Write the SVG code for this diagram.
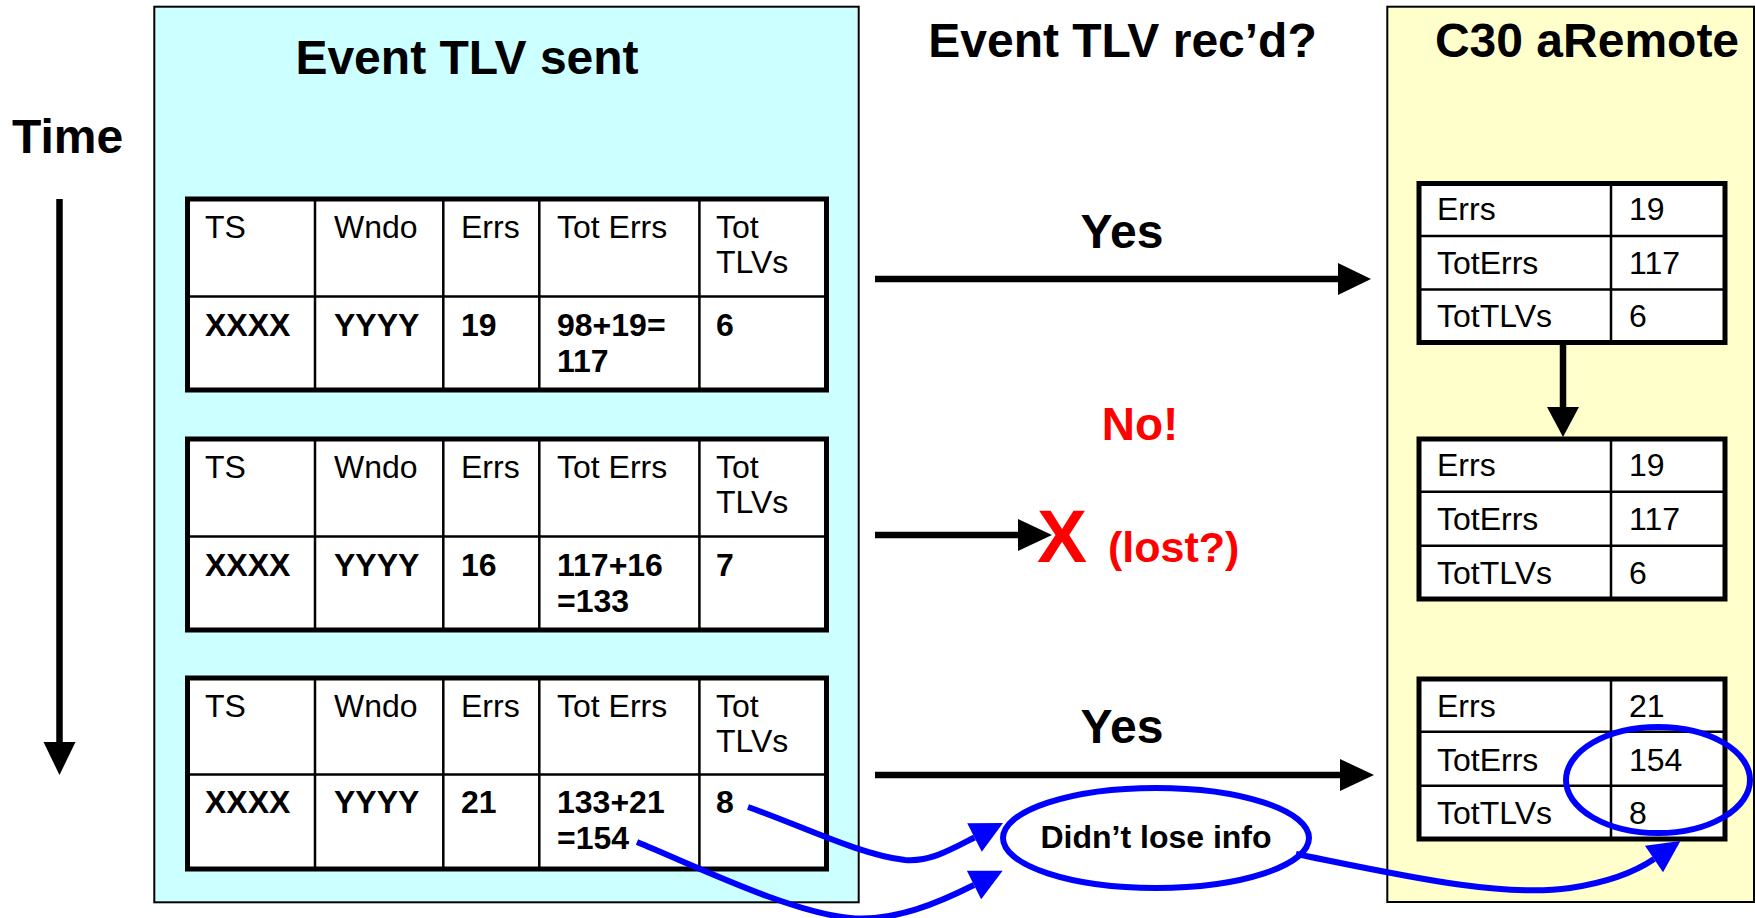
<svg xmlns="http://www.w3.org/2000/svg" width="1755" height="918" viewBox="0 0 1755 918">
<defs>
<style>
.title{font-family:"Liberation Sans",Arial,sans-serif;font-weight:bold;font-size:48px;fill:#000}
.cell{font-family:"Liberation Sans",Arial,sans-serif;font-size:32px;fill:#000}
.cellb{font-family:"Liberation Sans",Arial,sans-serif;font-size:32px;font-weight:bold;fill:#000}
.red{font-family:"Liberation Sans",Arial,sans-serif;font-weight:bold;fill:#FF0000}
.tbl{fill:#fff;stroke:none}
.outer{fill:none;stroke:#000;stroke-width:5}
.inner{stroke:#000;stroke-width:2.5;fill:none}
.blk{stroke:#000;stroke-width:6.5;fill:none}
.blue{stroke:#0000FF;stroke-width:6;fill:none}
</style>
<marker id="bh" markerUnits="userSpaceOnUse" markerWidth="34" markerHeight="34" refX="0" refY="16" orient="auto" overflow="visible">
<path d="M0,0 L32,16 L0,32 z" fill="#0000FF"/>
</marker>
</defs>
<rect width="1755" height="918" fill="#fff"/>

<g id="sent-panel">
<rect x="154.3" y="6.7" width="704.4" height="895.6" fill="#CCFFFF" stroke="#000" stroke-width="2"/>
<text class="title" x="467" y="74" text-anchor="middle">Event TLV sent</text>
</g>

<g id="remote-panel">
<rect x="1387.3" y="6.7" width="366.7" height="895.3" fill="#FFFFCC" stroke="#000" stroke-width="2"/>
<text class="title" x="1587" y="57" text-anchor="middle">C30 aRemote</text>
</g>

<g id="time-label">
<text class="title" x="12" y="153">Time</text>
</g>
<g id="recd-label">
<text class="title" x="1122.5" y="57" text-anchor="middle">Event TLV rec’d?</text>
</g>

<g id="sent-table-1" transform="translate(0,199)">
<rect class="tbl" x="187.5" y="0" width="639" height="191"/>
<path class="inner" d="M187.5,97.5H826.5M315,0V191M443.3,0V191M539.3,0V191M699.4,0V191"/>
<rect class="outer" x="187.5" y="0" width="639" height="191"/>
<text class="cell" x="205" y="38.5">TS</text>
<text class="cell" x="334" y="38.5">Wndo</text>
<text class="cell" x="461" y="38.5">Errs</text>
<text class="cell" x="557" y="38.5">Tot Errs</text>
<text class="cell" x="716" y="38.5">Tot</text>
<text class="cell" x="716" y="73.5">TLVs</text>
<text class="cellb" x="205" y="136.5">XXXX</text>
<text class="cellb" x="334" y="136.5">YYYY</text>
<text class="cellb" x="461" y="136.5">19</text>
<text class="cellb" x="557" y="136.5">98+19=</text>
<text class="cellb" x="557" y="172.5">117</text>
<text class="cellb" x="716" y="136.5">6</text>
</g>

<g id="sent-table-2" transform="translate(0,439)">
<rect class="tbl" x="187.5" y="0" width="639" height="191"/>
<path class="inner" d="M187.5,97.5H826.5M315,0V191M443.3,0V191M539.3,0V191M699.4,0V191"/>
<rect class="outer" x="187.5" y="0" width="639" height="191"/>
<text class="cell" x="205" y="38.5">TS</text>
<text class="cell" x="334" y="38.5">Wndo</text>
<text class="cell" x="461" y="38.5">Errs</text>
<text class="cell" x="557" y="38.5">Tot Errs</text>
<text class="cell" x="716" y="38.5">Tot</text>
<text class="cell" x="716" y="73.5">TLVs</text>
<text class="cellb" x="205" y="136.5">XXXX</text>
<text class="cellb" x="334" y="136.5">YYYY</text>
<text class="cellb" x="461" y="136.5">16</text>
<text class="cellb" x="557" y="136.5">117+16</text>
<text class="cellb" x="557" y="172.5">=133</text>
<text class="cellb" x="716" y="136.5">7</text>
</g>

<g id="sent-table-3" transform="translate(0,678)">
<rect class="tbl" x="187.5" y="0" width="639" height="191"/>
<path class="inner" d="M187.5,96.5H826.5M315,0V191M443.3,0V191M539.3,0V191M699.4,0V191"/>
<rect class="outer" x="187.5" y="0" width="639" height="191"/>
<text class="cell" x="205" y="38.5">TS</text>
<text class="cell" x="334" y="38.5">Wndo</text>
<text class="cell" x="461" y="38.5">Errs</text>
<text class="cell" x="557" y="38.5">Tot Errs</text>
<text class="cell" x="716" y="38.5">Tot</text>
<text class="cell" x="716" y="73.5">TLVs</text>
<text class="cellb" x="205" y="135">XXXX</text>
<text class="cellb" x="334" y="135">YYYY</text>
<text class="cellb" x="461" y="135">21</text>
<text class="cellb" x="557" y="135">133+21</text>
<text class="cellb" x="557" y="171">=154</text>
<text class="cellb" x="716" y="135">8</text>
</g>

<g id="remote-table-1" transform="translate(0,183.5)">
<rect class="tbl" x="1419" y="0" width="306" height="159"/>
<path class="inner" d="M1419,52.5H1725M1419,106H1725M1611,0V159"/>
<rect class="outer" x="1419" y="0" width="306" height="159"/>
<text class="cell" x="1437" y="36.5">Errs</text>
<text class="cell" x="1629" y="36.5">19</text>
<text class="cell" x="1437" y="90.5">TotErrs</text>
<text class="cell" x="1629" y="90.5">117</text>
<text class="cell" x="1437" y="143.5">TotTLVs</text>
<text class="cell" x="1629" y="143.5">6</text>
</g>

<g id="remote-table-2" transform="translate(0,439)">
<rect class="tbl" x="1419" y="0" width="306" height="160"/>
<path class="inner" d="M1419,52.7H1725M1419,106.7H1725M1611,0V160"/>
<rect class="outer" x="1419" y="0" width="306" height="160"/>
<text class="cell" x="1437" y="37">Errs</text>
<text class="cell" x="1629" y="37">19</text>
<text class="cell" x="1437" y="91">TotErrs</text>
<text class="cell" x="1629" y="91">117</text>
<text class="cell" x="1437" y="144.5">TotTLVs</text>
<text class="cell" x="1629" y="144.5">6</text>
</g>

<g id="remote-table-3" transform="translate(0,679)">
<rect class="tbl" x="1419" y="0" width="306" height="160"/>
<path class="inner" d="M1419,52.7H1725M1419,106.7H1725M1611,0V160"/>
<rect class="outer" x="1419" y="0" width="306" height="160"/>
<text class="cell" x="1437" y="37.5">Errs</text>
<text class="cell" x="1629" y="37.5">21</text>
<text class="cell" x="1437" y="91.5">TotErrs</text>
<text class="cell" x="1629" y="91.5">154</text>
<text class="cell" x="1437" y="144.5">TotTLVs</text>
<text class="cell" x="1629" y="144.5">8</text>
</g>

<g id="lost-label">
<text class="red" x="1140" y="440" font-size="46" text-anchor="middle">No!</text>
<text class="red" x="1037" y="562" font-size="75">X</text>
<text class="red" x="1108" y="561.5" font-size="43">(lost?)</text>
</g>

<g id="didnt-lose-info">
<ellipse cx="1156" cy="838" rx="153" ry="50" class="blue"/>
<text class="cellb" x="1156" y="848" text-anchor="middle">Didn’t lose info</text>
</g>

<g id="highlight">
<ellipse cx="1658" cy="780" rx="92" ry="53" class="blue"/>
</g>

<g id="connectors">
<line class="blk" x1="59.5" y1="199" x2="59.5" y2="743"/>
<polygon points="43.5,742 75.5,742 59.5,775" fill="#000"/>
<line class="blk" x1="875" y1="279" x2="1339" y2="279"/>
<polygon points="1338,263 1371,279 1338,295" fill="#000"/>
<text class="title" x="1122" y="248" text-anchor="middle">Yes</text>
<line class="blk" x1="875" y1="535" x2="1019" y2="535"/>
<polygon points="1018,519 1052,535 1018,551" fill="#000"/>
<line class="blk" x1="875" y1="775" x2="1341" y2="775"/>
<polygon points="1340,759 1374,775 1340,791" fill="#000"/>
<text class="title" x="1122" y="743" text-anchor="middle">Yes</text>
<line class="blk" x1="1563" y1="342" x2="1563" y2="408"/>
<polygon points="1547,407 1579,407 1563,437" fill="#000"/>
<path class="blue" d="M748,807 C800,825 860,855 905,860 C930,862 950,850 974.5,837.5" marker-end="url(#bh)"/>
<path class="blue" d="M637,842 C700,868 790,912 850,918 C895,922 940,902 974,885" marker-end="url(#bh)"/>
<path class="blue" d="M1296,854 C1400,875 1500,898 1570,888 C1610,882 1635,872 1654,859" marker-end="url(#bh)"/>
</g>
</svg>
